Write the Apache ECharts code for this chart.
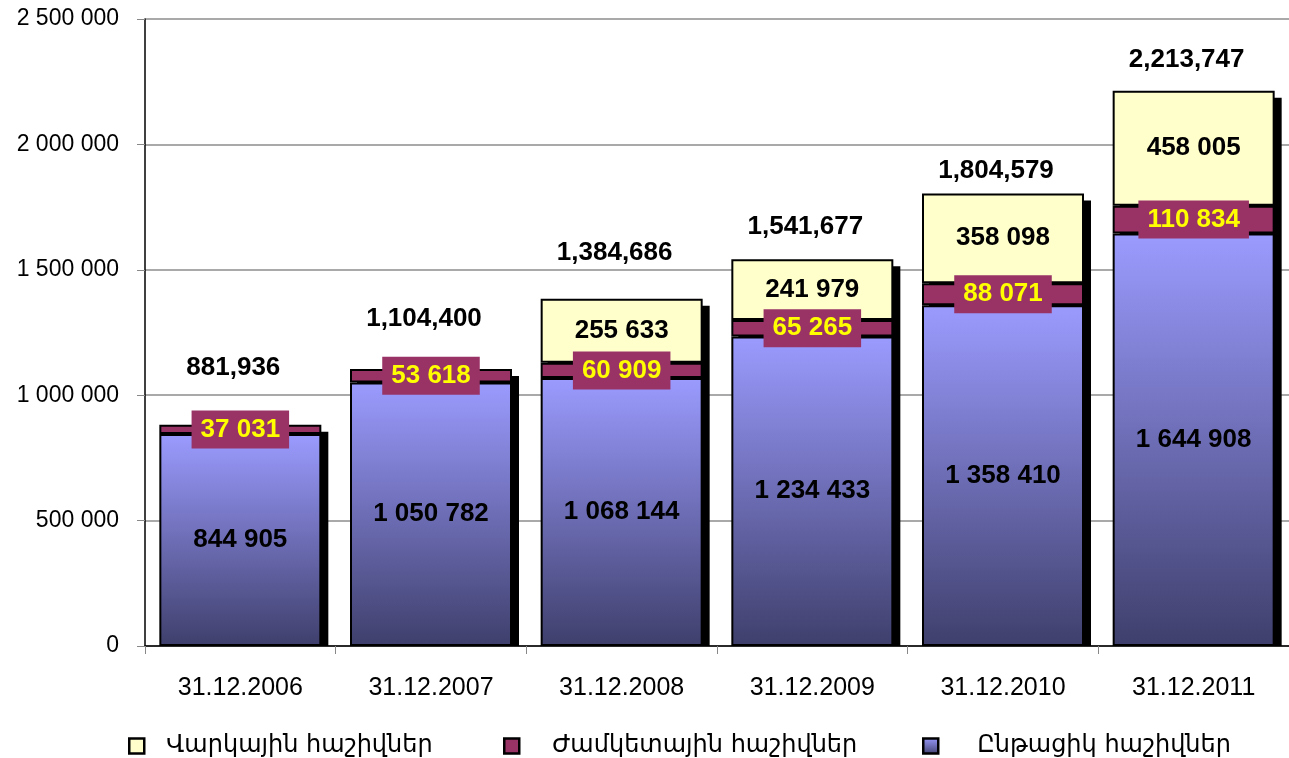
<!DOCTYPE html>
<html>
<head>
<meta charset="utf-8">
<script src="https://cdn.jsdelivr.net/npm/echarts@6/dist/echarts.min.js"></script>
<style>
  html, body { margin: 0; padding: 0; background: #fff; }
  #main { width: 1289px; height: 758px; }
</style>
</head>
<body>
<div id="main"></div>
<script>
// categories and values
const categories = ['31.12.2006', '31.12.2007', '31.12.2008', '31.12.2009', '31.12.2010', '31.12.2011'];
const currentAcc = [844905, 1050782, 1068144, 1234433, 1358410, 1644908];   // Ընթացիկ հաշիվներ
const termAcc = [37031, 53618, 60909, 65265, 88071, 110834];                // Ժամկետային հաշիվներ
const loanAcc = [null, null, 255633, 241979, 358098, 458005];               // Վարկային հաշիվներ
const totals = [881936, 1104400, 1384686, 1541677, 1804579, 2213747];
const seriesNames = ['Վարկային հաշիվներ', 'Ժամկետային հաշիվներ', 'Ընթացիկ հաշիվներ'];

// how far above each bar Excel put the total label (px)
const totalGap = [57, 50, 46, 33, 23, 31];

const barW = 162;
const font = 'Liberation Sans, Arial, sans-serif';

// 1234567 -> "1 234 567"
let spaced = (v) => String(v).replace(/\B(?=(\d{3})+(?!\d))/g, ' ');

let segLabel = (color, extra) => Object.assign({
    show: true,
    position: 'inside',
    color: color,
    fontFamily: font,
    fontWeight: 'bold',
    fontSize: 26,
    formatter: (p) => p.value == null ? '' : spaced(p.value)
}, extra || {});

let chart = echarts.init(document.getElementById('main'));

let legendItem = (name, left, gap) => ({
    icon: 'rect',
    itemWidth: 15,
    itemHeight: 15,
    left: left,
    top: 729,
    data: [name],
    itemStyle: { borderColor: '#000', borderWidth: 2.5 },
    textStyle: {
        fontFamily: 'DejaVu Sans, sans-serif',
        fontSize: 24,
        color: '#000',
        padding: [0, 0, 0, gap]
    }
});

let option = {
    animation: false,
    backgroundColor: '#fff',
    legend: [
        legendItem(seriesNames[0], 123, 17),
        legendItem(seriesNames[1], 498, 28),
        legendItem(seriesNames[2], 917, 34)
    ],
    grid: {
        left: 145,
        top: 19,
        width: 1157,
        height: 627,
        containLabel: false
    },
    xAxis: {
        type: 'category',
        data: categories,
        axisLine: { lineStyle: { color: '#000', width: 1.5 } },
        axisTick: { show: true, length: 8, lineStyle: { color: '#888' } },
        axisLabel: { color: '#000', fontFamily: font, fontSize: 25, margin: 30 },
        splitLine: { show: false }
    },
    yAxis: {
        type: 'value',
        min: 0,
        max: 2500000,
        interval: 500000,
        axisLine: { show: true, lineStyle: { color: '#000', width: 1.5 } },
        axisTick: { show: true, length: 8, lineStyle: { color: '#888' } },
        axisLabel: {
            color: '#000',
            fontFamily: font,
            fontSize: 23,
            margin: 26,
            formatter: (v) => spaced(v)
        },
        splitLine: { show: true, lineStyle: { color: '#8c8c8c', width: 1.5 } }
    },
    series: [
        {
            // black drop shadow behind each stacked bar, plus the total above it
            name: 'shadow',
            type: 'custom',
            z: 1,
            silent: true,
            data: totals.map((t, i) => [i, t]),
            encode: { x: 0, y: 1 },
            renderItem: (params, api) => {
                let i = params.dataIndex;
                let top = api.coord([api.value(0), api.value(1)]);
                let base = api.coord([api.value(0), 0]);
                return {
                    type: 'group',
                    children: [
                        {
                            type: 'rect',
                            shape: {
                                x: top[0] - barW / 2 + 7,
                                y: top[1] + 7,
                                width: barW,
                                height: base[1] - top[1] - 7
                            },
                            style: { fill: '#000' }
                        },
                        {
                            type: 'text',
                            z2: 100,
                            style: {
                                text: api.value(1).toLocaleString('en-US'),
                                x: top[0] - 7,
                                y: top[1] - totalGap[i],
                                align: 'center',
                                verticalAlign: 'middle',
                                fontFamily: font,
                                fontWeight: 'bold',
                                fontSize: 26,
                                fill: '#000'
                            }
                        }
                    ]
                };
            }
        },
        {
            name: seriesNames[2],
            type: 'bar',
            stack: 'acc',
            z: 2,
            barWidth: barW,
            data: currentAcc,
            itemStyle: {
                borderColor: '#000',
                borderWidth: 2,
                color: new echarts.graphic.LinearGradient(0, 0, 0, 1, [
                    { offset: 0, color: '#9b9bff' },
                    { offset: 1, color: '#3f3f6c' }
                ])
            },
            label: segLabel('#000')
        },
        {
            name: seriesNames[1],
            type: 'bar',
            stack: 'acc',
            z: 2,
            barWidth: barW,
            data: termAcc,
            itemStyle: { color: '#993366', borderColor: '#000', borderWidth: 2 },
            label: segLabel('#ffff00', { backgroundColor: '#993366', padding: [7, 9, 5, 9] })
        },
        {
            name: seriesNames[0],
            type: 'bar',
            stack: 'acc',
            z: 2,
            barWidth: barW,
            data: loanAcc,
            itemStyle: { color: '#ffffcc', borderColor: '#000', borderWidth: 2 },
            label: segLabel('#000')
        }
    ]
};

chart.setOption(option);
</script>
</body>
</html>
